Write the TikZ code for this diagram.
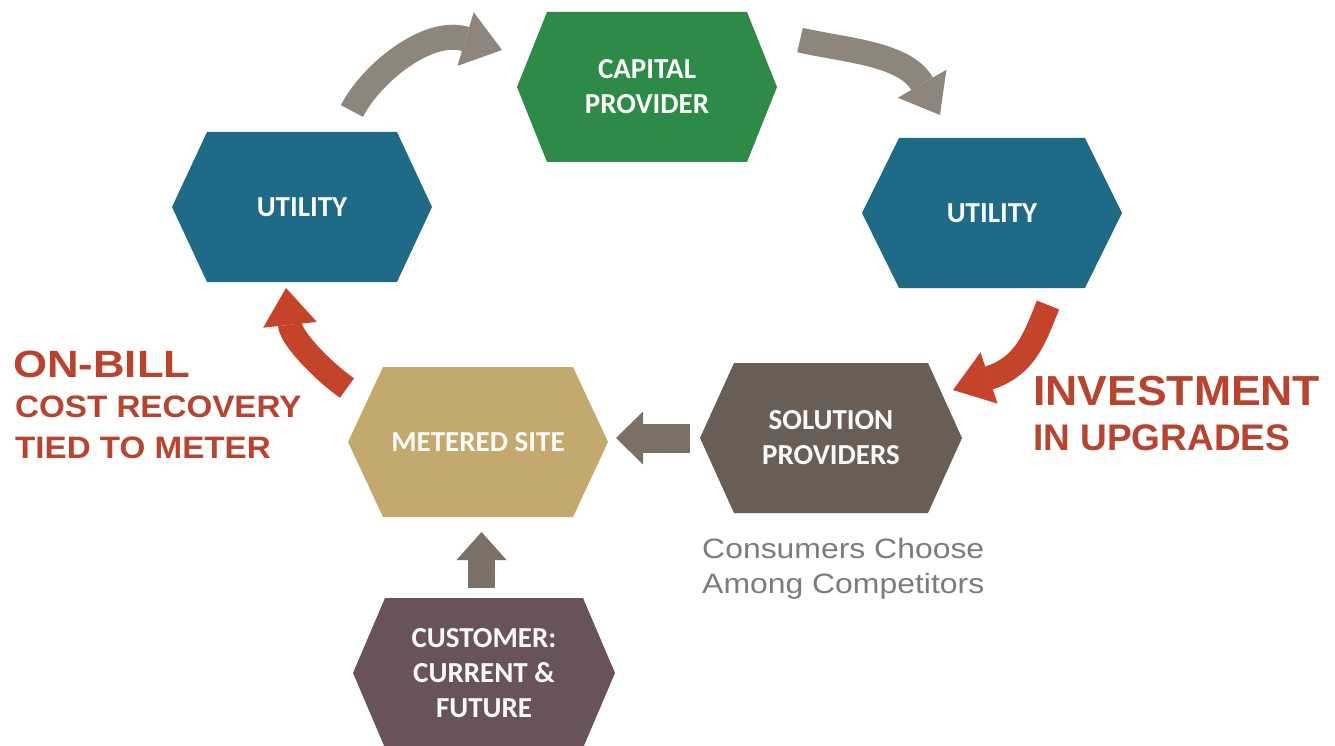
\documentclass[tikz,border=0pt]{standalone}
\usepackage{fontspec}
\newfontfamily\boxfont{Carlito}
\newfontfamily\labelfont{Liberation Sans}
\usetikzlibrary{arrows.meta,calc}

\definecolor{capgreen}{HTML}{2E8B47}
\definecolor{utilteal}{HTML}{1F6A86}
\definecolor{sitetan}{HTML}{C3A96E}
\definecolor{solgray}{HTML}{685E56}
\definecolor{custplum}{HTML}{68535A}
\definecolor{flowgray}{HTML}{8E857C}
\definecolor{flowdark}{HTML}{7A7066}
\definecolor{recred}{HTML}{C5432B}
\definecolor{labelred}{HTML}{B8432F}
\definecolor{notegray}{HTML}{7E7C7A}

\tikzset{
  hextext/.style={text=white!96!gray, align=center, inner sep=0pt,
    font=\boxfont\bfseries\fontsize{29}{35}\selectfont},
  redlabel/.style={anchor=base west, inner sep=0pt, text=labelred},
  notelabel/.style={anchor=base west, inner sep=0pt, text=notegray,
    font=\labelfont\fontsize{28}{30}\selectfont},
  bentflow/.style={line width=25pt, flowgray},
  redflow/.style={line width=24pt, recred},
  straightflow/.style={flowdark},
}

% hexagonal block: name, centre, colour, half width, slant inset, text
\newcommand\hexblock[6]{%
  \coordinate (#1-c) at (#2);
  \fill[#3] ($(#1-c)+(-#4,0)$) -- ($(#1-c)+(-#4+#5,-75)$) -- ($(#1-c)+(#4-#5,-75)$)
    -- ($(#1-c)+(#4,0)$) -- ($(#1-c)+(#4-#5,75)$) -- ($(#1-c)+(-#4+#5,75)$) -- cycle;
  \node[hextext] (#1) at (#1-c) {#6};
}

\begin{document}
\begin{tikzpicture}[x=1pt, y=-1pt]
  \fill[white] (0,0) rectangle (1335,746);
  \useasboundingbox (0,0) rectangle (1335,746);

  % blocks
  \hexblock{capital}{647,87}{capgreen}{130}{30}{CAPITAL\\PROVIDER}
  \hexblock{utilleft}{302,207}{utilteal}{130}{35}{UTILITY}
  \hexblock{utilright}{992,213}{utilteal}{130}{37}{UTILITY}
  \hexblock{site}{478,442}{sitetan}{130}{35}{METERED SITE}
  \hexblock{solution}{831,438}{solgray}{131}{34}{SOLUTION\\PROVIDERS}
  \hexblock{customer}{484,673}{custplum}{131}{32}{CUSTOMER:\\CURRENT \&\\FUTURE}

  % arrow ends: tail, neck (back of the head) and tip
  \coordinate (ul-tail) at (352,111);
  \coordinate (ul-neck) at (465.5,39);
  \coordinate (ul-tip)  at (502,50);
  \coordinate (ur-tail) at (800,40);
  \coordinate (ur-neck) at (922,83.7);
  \coordinate (ur-tip)  at (940,115);
  \coordinate (inv-tail) at (1048,305);
  \coordinate (inv-neck) at (989,378);
  \coordinate (inv-tip)  at (953,390);
  \coordinate (bill-tail) at (347,388);
  \coordinate (bill-neck) at (290,325);
  \coordinate (bill-tip)  at (286,288);
  \coordinate (sol-out) at (690,438);
  \coordinate (site-in) at (616,438);
  \coordinate (cust-out) at (481.5,588);
  \coordinate (site-up)  at (481.5,532);

  % curved flows round the cycle
  \draw[bentflow, -{Triangle[length=38pt,width=56pt,line width=0pt]}]
    (ul-tail) .. controls (370,75) and (427,27.4) .. (ul-neck) -- (ul-tip);
  \draw[bentflow, -{Triangle[length=36pt,width=56pt,line width=0pt]}]
    (ur-tail) .. controls (842,50) and (904.5,53) .. (ur-neck) -- (ur-tip);
  \draw[redflow, -{Triangle[length=38pt,width=54pt,line width=0pt]}]
    (inv-tail) .. controls (1034,340) and (1025,366) .. (inv-neck) -- (inv-tip);
  \draw[redflow, -{Triangle[length=37pt,width=54pt,line width=0pt]}]
    (bill-tail) .. controls (324,372) and (291.4,338.9) .. (bill-neck) -- (bill-tip);

  % straight flows into the metered site
  \draw[straightflow, line width=29pt, -{Triangle[length=27pt,width=53pt,line width=0pt]}]
    (sol-out) -- (site-in);
  \draw[straightflow, line width=27pt, -{Triangle[length=28pt,width=50pt,line width=0pt]}]
    (cust-out) -- (site-up);

  % labels
  \node[redlabel, font=\labelfont\bfseries\fontsize{38}{40}\selectfont] (onbill) at (13,377)
    {\scalebox{1.15}[1]{ON-BILL}};
  \node[redlabel, font=\labelfont\bfseries\fontsize{31}{33}\selectfont] (costrec) at (15,417)
    {\scalebox{1.07}[1]{COST RECOVERY}};
  \node[redlabel, font=\labelfont\bfseries\fontsize{31}{33}\selectfont] (tiedmeter) at (15,458)
    {\scalebox{1.07}[1]{TIED TO METER}};
  \node[redlabel, font=\labelfont\bfseries\fontsize{42}{44}\selectfont] (invest) at (1033,405)
    {\scalebox{1.06}[1]{INVESTMENT}};
  \node[redlabel, font=\labelfont\bfseries\fontsize{37}{39}\selectfont] (upgrades) at (1033,450)
    {IN UPGRADES};
  \node[notelabel] (choose) at (702,558) {\scalebox{1.14}[1]{Consumers Choose}};
  \node[notelabel] (among) at (702,593) {\scalebox{1.14}[1]{Among Competitors}};
\end{tikzpicture}
\end{document}
